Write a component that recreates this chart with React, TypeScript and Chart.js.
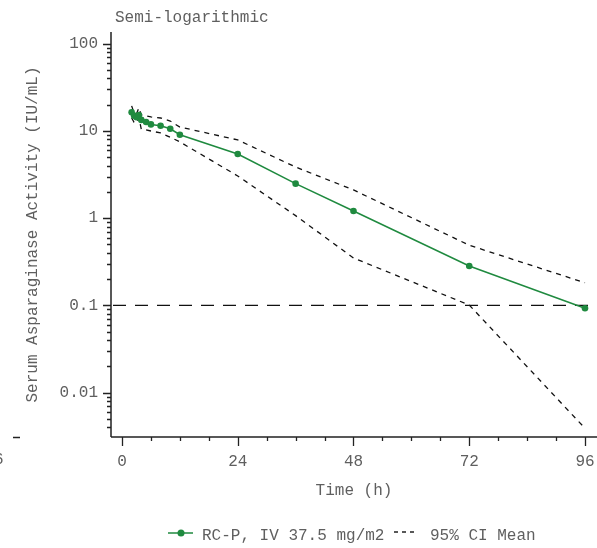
import React, { useEffect, useRef } from 'react';
import { Chart, registerables } from 'chart.js';

Chart.register(...registerables);

// ---- data ----
const timeHours = [2, 2.5, 3, 3.5, 4, 5, 6, 8, 10, 12, 24, 36, 48, 72, 96];
const meanActivity = [16.4, 15.0, 14.4, 15.25, 13.4, 12.7, 11.9, 11.5, 10.6, 9.07, 5.44, 2.49, 1.21, 0.283, 0.0927];
const ciUpper = [19.4, 16.1, 15.7, 18.4, 15.3, 14.9, 14.5, 14.1, 13.0, 11.1, 7.9, 3.86, 2.11, 0.49, 0.182];
const ciLower = [14.1, 12.6, 12.3, 14.2, 10.5, 10.3, 10.0, 9.5, 8.5, 7.5, 3.05, 1.07, 0.35, 0.101, 0.0039];
const referenceLevel = 0.1;

const xTickValues = [0, 6, 12, 18, 24, 30, 36, 42, 48, 54, 60, 66, 72, 78, 84, 90, 96];
const xMajorTicks = [0, 24, 48, 72, 96];
const xTickLabels = ['0', '24', '48', '72', '96'];
const yMajorTicks = [0.01, 0.1, 1, 10, 100];
const yTickLabels = ['0.01', '0.1', '1', '10', '100'];
const yMinorMultipliers = [1, 2, 3, 4, 5, 6, 7, 8, 9];
const yDecades = [0.001, 0.01, 0.1, 1, 10, 100];

const seriesLabels = ['RC-P, IV 37.5 mg/m2', '95% CI Mean'];
const titleText = 'Semi-logarithmic';
const yTitle = 'Serum Asparaginase Activity (IU/mL)';
const xTitle = 'Time (h)';
const strayLabel = '96';

// ---- style ----
const GREEN = '#1f8a3f';
const TEXT = '#5f5f5f';
const AXIS = '#222';
const FONT_FAMILY = "'Liberation Mono', 'DejaVu Sans Mono', monospace";
const FONT_SIZE = 16;
const X_MIN = -2.28;
const X_MAX = 98.49;
const Y_MIN = 0.0031;
const Y_MAX = 136.5;

const decorPlugin = {
  id: 'decor',
  afterDraw(chart: any) {
    const ctx = chart.ctx as CanvasRenderingContext2D;
    const { left, right, top, bottom } = chart.chartArea;
    const xs = chart.scales.x;
    const ys = chart.scales.y;
    ctx.save();
    // axes lines
    ctx.strokeStyle = AXIS;
    ctx.lineWidth = 1.5;
    ctx.beginPath();
    ctx.moveTo(left, top);
    ctx.lineTo(left, bottom);
    ctx.moveTo(left, bottom);
    ctx.lineTo(right, bottom);
    ctx.stroke();
    // y ticks
    ctx.lineWidth = 1.3;
    ctx.beginPath();
    for (const t of ys.ticks) {
      const v = t.value;
      const y = Math.round(ys.getPixelForValue(v)) + 0.5;
      const major = yMajorTicks.some((m) => Math.abs(m - v) / m < 1e-6);
      const len = major ? 8 : 4;
      ctx.moveTo(left - len, y);
      ctx.lineTo(left, y);
    }
    // x ticks
    for (const t of xs.ticks) {
      const v = t.value;
      const x = Math.round(xs.getPixelForValue(v)) + 0.5;
      const major = xMajorTicks.includes(v);
      const len = major ? 9 : 4;
      ctx.moveTo(x, bottom);
      ctx.lineTo(x, bottom + len);
    }
    ctx.stroke();

    // stray fragment of neighbouring panel
    ctx.lineWidth = 1.5;
    ctx.beginPath();
    ctx.moveTo(13, bottom + 0.5);
    ctx.lineTo(20, bottom + 0.5);
    ctx.stroke();

    ctx.fillStyle = TEXT;
    ctx.font = `${FONT_SIZE}px ${FONT_FAMILY}`;
    ctx.textAlign = 'center';
    ctx.textBaseline = 'middle';
    ctx.fillText(strayLabel, -6, 460);

    // title
    ctx.textAlign = 'left';
    ctx.textBaseline = 'alphabetic';
    ctx.fillText(titleText, 115, 22);

    // x title
    ctx.textAlign = 'center';
    ctx.textBaseline = 'middle';
    ctx.fillText(xTitle, (left + right) / 2, 491);

    // y title
    ctx.save();
    ctx.translate(33, (top + bottom) / 2);
    ctx.rotate(-Math.PI / 2);
    ctx.fillText(yTitle, 0, 0);
    ctx.restore();

    // legend
    const ly = 533;
    ctx.strokeStyle = GREEN;
    ctx.lineWidth = 1.5;
    ctx.beginPath();
    ctx.moveTo(168, ly);
    ctx.lineTo(193, ly);
    ctx.stroke();
    ctx.fillStyle = GREEN;
    ctx.beginPath();
    ctx.arc(181, ly, 3.5, 0, Math.PI * 2);
    ctx.fill();
    ctx.fillStyle = TEXT;
    ctx.textAlign = 'left';
    ctx.textBaseline = 'middle';
    ctx.fillText(seriesLabels[0], 202, ly + 3);
    ctx.strokeStyle = AXIS;
    ctx.lineWidth = 1.3;
    ctx.setLineDash([4, 4]);
    ctx.beginPath();
    ctx.moveTo(394, ly - 1);
    ctx.lineTo(417, ly - 1);
    ctx.stroke();
    ctx.setLineDash([]);
    ctx.fillText(seriesLabels[1], 430, ly + 3);
    ctx.restore();
  },
};

export default function App() {
  const canvasRef = useRef<HTMLCanvasElement | null>(null);

  useEffect(() => {
    document.body.style.margin = '0';
    const canvas = canvasRef.current;
    if (!canvas) return;
    const font = { family: FONT_FAMILY, size: FONT_SIZE };
    const chart = new Chart(canvas, {
      type: 'line',
      data: {
        datasets: [
          {
            label: seriesLabels[0],
            data: timeHours.map((t, i) => ({ x: t, y: meanActivity[i] })),
            borderColor: GREEN,
            backgroundColor: GREEN,
            borderWidth: 1.5,
            pointRadius: 3.3,
            pointBorderWidth: 0,
            pointBackgroundColor: GREEN,
            tension: 0,
          },
          {
            label: seriesLabels[1],
            data: timeHours.map((t, i) => ({ x: t, y: ciUpper[i] })),
            borderColor: '#111',
            borderWidth: 1.3,
            borderDash: [5, 5],
            pointRadius: 0,
            tension: 0,
          },
          {
            label: 'lower',
            data: timeHours.map((t, i) => ({ x: t, y: ciLower[i] })),
            borderColor: '#111',
            borderWidth: 1.3,
            borderDash: [5, 5],
            pointRadius: 0,
            tension: 0,
          },
          {
            label: 'reference',
            data: [
              { x: X_MIN, y: referenceLevel },
              { x: X_MAX, y: referenceLevel },
            ],
            borderColor: '#111',
            borderWidth: 1.3,
            borderDash: [13, 9],
            borderDashOffset: -2,
            pointRadius: 0,
          },
        ],
      },
      options: {
        animation: false,
        responsive: false,
        maintainAspectRatio: false,
        layout: { autoPadding: false, padding: { top: 32, left: 0, right: 0, bottom: 0 } },
        plugins: {
          legend: { display: false },
          title: { display: false },
          tooltip: { enabled: false },
        },
        scales: {
          x: {
            type: 'linear',
            min: X_MIN,
            max: X_MAX,
            grid: { display: false, drawTicks: false },
            border: { display: false },
            afterBuildTicks: (s: any) => {
              s.ticks = xTickValues.map((v) => ({ value: v }));
            },
            afterFit: (s: any) => {
              s.height = 111;
              s.paddingLeft = 0;
              s.paddingRight = 0;
            },
            ticks: {
              autoSkip: false,
              maxRotation: 0,
              padding: 15,
              color: TEXT,
              font,
              callback: (v: any) => {
                const i = xMajorTicks.indexOf(Number(v));
                return i >= 0 ? xTickLabels[i] : '';
              },
            },
          },
          y: {
            type: 'logarithmic',
            min: Y_MIN,
            max: Y_MAX,
            grid: { display: false, drawTicks: false },
            border: { display: false },
            afterBuildTicks: (s: any) => {
              const ticks: { value: number }[] = [];
              for (const d of yDecades) {
                for (const m of yMinorMultipliers) {
                  const v = +(m * d).toPrecision(6);
                  if (v >= Y_MIN && v <= Y_MAX) ticks.push({ value: v });
                }
              }
              s.ticks = ticks;
            },
            afterFit: (s: any) => {
              s.width = 111;
              s.paddingTop = 0;
              s.paddingBottom = 0;
            },
            ticks: {
              autoSkip: false,
              padding: 13,
              color: TEXT,
              font,
              callback: (v: any) => {
                const n = Number(v);
                const i = yMajorTicks.findIndex((m) => Math.abs(m - n) / m < 1e-6);
                return i >= 0 ? yTickLabels[i] : '';
              },
            },
          },
        },
      },
      plugins: [decorPlugin],
    });
    return () => chart.destroy();
  }, []);

  return (
    <div style={{ width: 597, height: 548 }}>
      <canvas ref={canvasRef} width={597} height={548} style={{ display: 'block' }} />
    </div>
  );
}
